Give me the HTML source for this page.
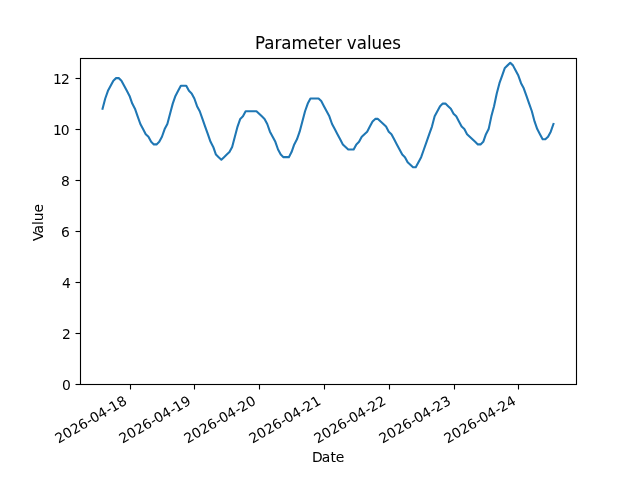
<!DOCTYPE html>
<html lang="en">
<head>
<meta charset="utf-8">
<title>Parameter values</title>
<style>
html,body{margin:0;padding:0;background:#ffffff;}
body{width:640px;height:480px;overflow:hidden;}
svg{display:block;}
text{font-family:"DejaVu Sans", "Liberation Sans", sans-serif;fill:#000000;stroke:#000000;stroke-width:0;}
.tk{font-size:13.8889px;}
.ti{font-size:16.6667px;stroke-width:0.05;}
.xt{stroke-width:0;}
.yt{stroke-width:0;}
.xl{stroke-width:0.04;}
.yl{stroke-width:0.04;}
.ax{stroke:#000000;stroke-width:1.1111;fill:none;stroke-linecap:square;stroke-linejoin:miter;}
.tick{stroke:#000000;stroke-width:1.1111;fill:none;stroke-linecap:butt;}
.ln{stroke:#1f77b4;stroke-width:2.0833;fill:none;stroke-linecap:square;stroke-linejoin:round;}
</style>
</head>
<body>
<svg width="640" height="480" viewBox="0 0 640 480">
<rect x="0" y="0" width="640" height="480" fill="#ffffff"/>
<g id="ticks">
<line class="tick" x1="130.5" y1="384.5" x2="130.5" y2="389.5"/>
<line class="tick" x1="194.5" y1="384.5" x2="194.5" y2="389.5"/>
<line class="tick" x1="259.5" y1="384.5" x2="259.5" y2="389.5"/>
<line class="tick" x1="324.5" y1="384.5" x2="324.5" y2="389.5"/>
<line class="tick" x1="389.5" y1="384.5" x2="389.5" y2="389.5"/>
<line class="tick" x1="454.5" y1="384.5" x2="454.5" y2="389.5"/>
<line class="tick" x1="518.5" y1="384.5" x2="518.5" y2="389.5"/>
<line class="tick" x1="75.5" y1="384.5" x2="80.5" y2="384.5"/>
<line class="tick" x1="75.5" y1="333.5" x2="80.5" y2="333.5"/>
<line class="tick" x1="75.5" y1="282.5" x2="80.5" y2="282.5"/>
<line class="tick" x1="75.5" y1="231.5" x2="80.5" y2="231.5"/>
<line class="tick" x1="75.5" y1="180.5" x2="80.5" y2="180.5"/>
<line class="tick" x1="75.5" y1="129.5" x2="80.5" y2="129.5"/>
<line class="tick" x1="75.5" y1="78.5" x2="80.5" y2="78.5"/>
</g>
<polyline class="ln" points="102.55,108.71 105.25,98.51 107.95,90.86 110.65,85.77 113.35,80.67 116.05,78.12 118.75,78.12 121.45,80.67 124.15,85.77 126.85,90.86 129.55,95.96 132.25,103.61 134.95,108.71 137.65,116.35 140.35,124 143.05,129.1 145.75,134.2 148.45,136.75 151.15,141.84 153.85,144.39 156.55,144.39 159.25,141.84 161.95,136.75 164.65,129.1 167.35,124 170.05,113.81 172.75,103.61 175.45,95.96 178.15,90.86 180.85,85.77 183.55,85.77 186.25,85.77 188.95,90.86 191.65,93.41 194.35,98.51 197.05,106.16 199.75,111.26 202.45,118.9 205.15,126.55 207.85,134.2 210.55,141.84 213.25,146.94 215.95,154.59 218.65,157.14 221.35,159.69 224.05,157.14 226.75,154.59 229.45,152.04 232.15,146.94 234.85,136.75 237.55,126.55 240.25,118.9 242.95,116.35 245.65,111.26 248.35,111.26 251.05,111.26 253.75,111.26 256.45,111.26 259.15,113.81 261.85,116.35 264.55,118.9 267.25,124 269.95,131.65 272.65,136.75 275.35,141.84 278.05,149.49 280.75,154.59 283.45,157.14 286.15,157.14 288.85,157.14 291.55,152.04 294.25,144.39 296.95,139.3 299.65,131.65 302.35,121.45 305.05,111.26 307.75,103.61 310.45,98.51 313.15,98.51 315.85,98.51 318.55,98.51 321.25,101.06 323.95,106.16 326.65,111.26 329.35,116.35 332.05,124 334.75,129.1 337.45,134.2 340.15,139.3 342.85,144.39 345.55,146.94 348.25,149.49 350.95,149.49 353.65,149.49 356.35,144.39 359.05,141.84 361.75,136.75 364.45,134.2 367.15,131.65 369.85,126.55 372.55,121.45 375.25,118.9 377.95,118.9 380.65,121.45 383.35,124 386.05,126.55 388.75,131.65 391.45,134.2 394.15,139.3 396.85,144.39 399.55,149.49 402.25,154.59 404.95,157.14 407.65,162.24 410.35,164.79 413.05,167.33 415.75,167.33 418.45,162.24 421.15,157.14 423.85,149.49 426.55,141.84 429.25,134.2 431.95,126.55 434.65,116.35 437.35,111.26 440.05,106.16 442.75,103.61 445.45,103.61 448.15,106.16 450.85,108.71 453.55,113.81 456.25,116.35 458.95,121.45 461.65,126.55 464.35,129.1 467.05,134.2 469.75,136.75 472.45,139.3 475.15,141.84 477.85,144.39 480.55,144.39 483.25,141.84 485.95,134.2 488.65,129.1 491.35,116.35 494.05,106.16 496.75,93.41 499.45,83.22 502.15,75.57 504.85,67.92 507.55,65.37 510.25,62.83 512.95,65.37 515.65,70.47 518.35,75.57 521.05,83.22 523.75,88.32 526.45,95.96 529.15,103.61 531.85,111.26 534.55,121.45 537.25,129.1 539.95,134.2 542.65,139.3 545.35,139.3 548.05,136.75 550.75,131.65 553.45,124"/>
<rect class="ax" x="80.5" y="58.5" width="496" height="326"/>
<g id="labels">
<text id="xt0" class="tk xt" transform="translate(58.330 443.720) rotate(-30) scale(1.0000 0.9900)" x="0.15 8.81 18.09 26.62 35.75 40.31 48.99 58.27 62.52 71.5">2026-04-18</text>
<text id="xt1" class="tk xt" transform="translate(122.331 443.720) rotate(-30) scale(1.0000 0.9900)" x="0.15 8.81 18.09 26.62 35.75 40.31 48.99 58.27 62.52 71.5">2026-04-19</text>
<text id="xt2" class="tk xt" transform="translate(187.332 443.720) rotate(-30) scale(1.0000 0.9900)" x="0.15 8.81 18.09 26.62 35.75 40.31 48.99 58.27 62.52 71.5">2026-04-20</text>
<text id="xt3" class="tk xt" transform="translate(252.333 443.720) rotate(-30) scale(1.0000 0.9900)" x="0.15 8.81 18.09 26.62 35.75 40.31 48.99 58.27 62.52 71.5">2026-04-21</text>
<text id="xt4" class="tk xt" transform="translate(317.335 443.720) rotate(-30) scale(1.0000 0.9900)" x="0.15 8.81 18.09 26.62 35.75 40.31 48.99 58.27 62.52 71.5">2026-04-22</text>
<text id="xt5" class="tk xt" transform="translate(382.336 443.720) rotate(-30) scale(1.0000 0.9900)" x="0.15 8.81 18.09 26.62 35.75 40.31 48.99 58.27 62.52 71.5">2026-04-23</text>
<text id="xt6" class="tk xt" transform="translate(447.337 443.720) rotate(-30) scale(1.0000 0.9900)" x="0.15 8.81 18.09 26.62 35.75 40.31 48.99 58.27 62.52 71.5">2026-04-24</text>
<text id="xl" class="tk xl" transform="translate(328.250 461.830) scale(1.0000 1.0200)" x="-16.29 -6.51 2.14 7.59">Date</text>
<text id="yt0" class="tk yt" transform="translate(70.778 390.327) scale(1.0000 1.0200)" x="-8.83">0</text>
<text id="yt2" class="tk yt" transform="translate(70.778 339.347) scale(1.0000 1.0200)" x="-8.83">2</text>
<text id="yt4" class="tk yt" transform="translate(70.778 288.367) scale(1.0000 1.0200)" x="-8.83">4</text>
<text id="yt6" class="tk yt" transform="translate(69.778 237.386) scale(1.0000 1.0200)" x="-8.83">6</text>
<text id="yt8" class="tk yt" transform="translate(69.778 186.406) scale(1.0000 1.0200)" x="-8.83">8</text>
<text id="yt10" class="tk yt" transform="translate(70.178 135.426) scale(1.0000 1.0200)" x="-17.21 -9.44">10</text>
<text id="yt12" class="tk yt" transform="translate(70.578 84.446) scale(1.0000 1.0200)" x="-17.66 -9.59">12</text>
<text id="yl" class="tk yl" transform="translate(43.160 222.750) rotate(-90)" x="-18.3 -10.65 -2.15 1.41 10.21">Value</text>
<text id="ti" class="ti" transform="translate(328.000 48.967) scale(1.0000 1.0650)" x="-73.05 -63.77 -53.55 -46.71 -36.51 -20.29 -10.05 -3.52 6.74 13.58 18.87 28.72 38.94 43.56 54.12 64.36">Parameter values</text>
</g>
</svg>
</body>
</html>
